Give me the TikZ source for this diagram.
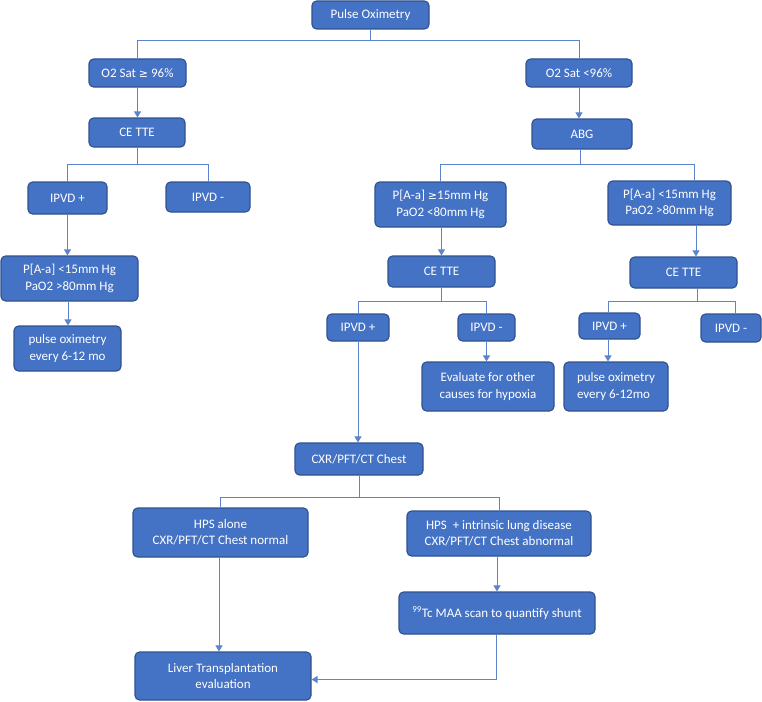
\documentclass[tikz,border=0pt]{standalone}
\usepackage{fontspec}
\setmainfont{Carlito}
\newfontfamily\symfont{DejaVu Sans}
\usetikzlibrary{arrows.meta,calc}
\definecolor{boxfill}{HTML}{4472C4}
\definecolor{boxline}{HTML}{2F528F}
\definecolor{connc}{HTML}{5B84CC}
\tikzset{
  box/.style={draw=boxline, line width=1.1pt, fill=boxfill, rounded corners=4.5pt,
    text=white, align=center, inner sep=0pt, font=\fontsize{13}{16.5}\selectfont},
  conn/.style={draw=connc, line width=0.9pt},
  arr/.style={conn, -{Triangle[width=7pt,length=6pt]}}
}
\newcommand{\gesym}{{\fontsize{11}{12}\selectfont\symfont ≥}}
\begin{document}
\begin{tikzpicture}[x=1pt,y=-1pt]
\useasboundingbox (0,0) rectangle (762,701);
% boxes: center (cx,cy), width, height
\node[box,minimum width=117pt,minimum height=28pt] (po) at (370.5,15) {Pulse Oximetry};
\node[box,minimum width=97pt,minimum height=28pt] (o2hi) at (137.5,73) {O2 Sat \gesym\ 96\%};
\node[box,minimum width=106pt,minimum height=28pt] (o2lo) at (579,73) {O2 Sat <96\%};
\node[box,minimum width=96pt,minimum height=29pt] (ceL) at (137,132.5) {CE TTE};
\node[box,minimum width=100pt,minimum height=30pt] (abg) at (582,134) {ABG};
\node[box,minimum width=79pt,minimum height=32pt] (ipL) at (67.5,198) {IPVD +};
\node[box,minimum width=84pt,minimum height=30pt] (imL) at (208,197) {IPVD -};
\node[box,minimum width=131pt,minimum height=45pt] (paHi) at (440.5,204.5) {P[A-a] \gesym15mm Hg\\PaO2 <80mm Hg};
\node[box,minimum width=123pt,minimum height=44pt] (paLoR) at (669.5,203) {P[A-a] <15mm Hg\\PaO2 >80mm Hg};
\node[box,minimum width=137pt,minimum height=45pt] (paLoL) at (69.5,278.5) {P[A-a] <15mm Hg\\PaO2 >80mm Hg};
\node[box,minimum width=107pt,minimum height=45pt] (poL) at (67.5,348.5) {pulse oximetry\\every 6-12 mo};
\node[box,minimum width=107pt,minimum height=31pt] (ceM) at (441.5,271.5) {CE TTE};
\node[box,minimum width=107pt,minimum height=31pt] (ceR) at (683.5,272.5) {CE TTE};
\node[box,minimum width=62pt,minimum height=27pt] (ipM) at (358,327.5) {IPVD +};
\node[box,minimum width=57pt,minimum height=27pt] (imM) at (486.5,327.5) {IPVD -};
\node[box,minimum width=132pt,minimum height=49pt] (eval) at (488,386.5) {Evaluate for other\\causes for hypoxia};
\node[box,minimum width=61pt,minimum height=26pt] (ipR) at (609.5,326) {IPVD +};
\node[box,minimum width=60pt,minimum height=28pt] (imR) at (731,328) {IPVD -};
\node[box,minimum width=104pt,minimum height=49pt,align=left] (poR) at (616,386.5) {pulse oximetry\\every 6-12mo};
\node[box,minimum width=128pt,minimum height=32pt] (cxr) at (359,459) {CXR/PFT/CT Chest};
\node[box,minimum width=175pt,minimum height=49pt] (hpsA) at (220.5,532.5) {HPS alone\\CXR/PFT/CT Chest normal};
\node[box,minimum width=184pt,minimum height=45pt] (hpsB) at (499,533.5) {HPS \ + intrinsic lung disease\\CXR/PFT/CT Chest abnormal};
\node[box,minimum width=196pt,minimum height=42pt] (tc) at (497,613) {\textsuperscript{99}Tc MAA scan to quantify shunt};
\node[box,minimum width=176pt,minimum height=48pt] (liver) at (223,676) {Liver Transplantation\\evaluation};
% connectors
\draw[conn] (po.south) -- ++(0,11) coordinate (jpo);
\draw[conn] (jpo) -| (o2hi.north);
\draw[conn] (jpo) -| (o2lo.north);
\draw[arr] (o2hi.south) -- (o2hi.south |- ceL.north);
\draw[arr] (o2lo.south) -- (o2lo.south |- abg.north);
\draw[conn] (ceL.south) -- ++(0,17) coordinate (jceL);
\draw[conn] (jceL) -| (ipL.north);
\draw[conn] (jceL) -| (imL.north);
\draw[conn] ([xshift=-2pt]abg.south) -- ++(0,15) coordinate (jabg);
\draw[conn] (jabg) -| (paHi.north);
\draw[conn] (jabg) -| ([xshift=24.5pt]paLoR.north);
\draw[arr] (ipL.south) -- (ipL.south |- paLoL.north);
\draw[arr] ([xshift=-1.5pt]paLoL.south) -- ([xshift=-1.5pt]paLoL.south |- poL.north);
\draw[arr] ([xshift=1pt]paHi.south) -- ([xshift=1pt]paHi.south |- ceM.north);
\draw[arr] ([xshift=26.5pt]paLoR.south) -- ([xshift=26.5pt]paLoR.south |- ceR.north);
\draw[conn] (ceM.south) -- ++(0,14) coordinate (jceM);
\draw[conn] (jceM) -| (ipM.north);
\draw[conn] (jceM) -| (imM.north);
\draw[conn] ([xshift=13.5pt]ceR.south) -- ++(0,13) coordinate (jceR);
\draw[conn] (jceR) -| ([xshift=-1.5pt]ipR.north);
\draw[conn] (jceR) -| ([xshift=4pt]imR.north);
\draw[arr] (imM.south) -- (imM.south |- eval.north);
\draw[arr] ([xshift=-1.5pt]ipR.south) -- ([xshift=-1.5pt]ipR.south |- poR.north);
\draw[arr] (ipM.south) -- (ipM.south |- cxr.north);
\draw[conn] (cxr.south) -- ++(0,22) coordinate (jcxr);
\draw[conn] (jcxr) -| ([xshift=-0.5pt]hpsA.north);
\draw[conn] (jcxr) -| (hpsB.north);
\draw[arr] ([xshift=-2pt]hpsB.south) -- ([xshift=-2pt]hpsB.south |- tc.north);
\draw[arr] ([xshift=-1.5pt]hpsA.south) -- ([xshift=-1.5pt]hpsA.south |- liver.north);
\draw[conn] ([xshift=-1pt]tc.south) -- ++(0,45) coordinate (jtc);
\draw[arr] (jtc) -- (jtc -| liver.east);
\end{tikzpicture}
\end{document}
